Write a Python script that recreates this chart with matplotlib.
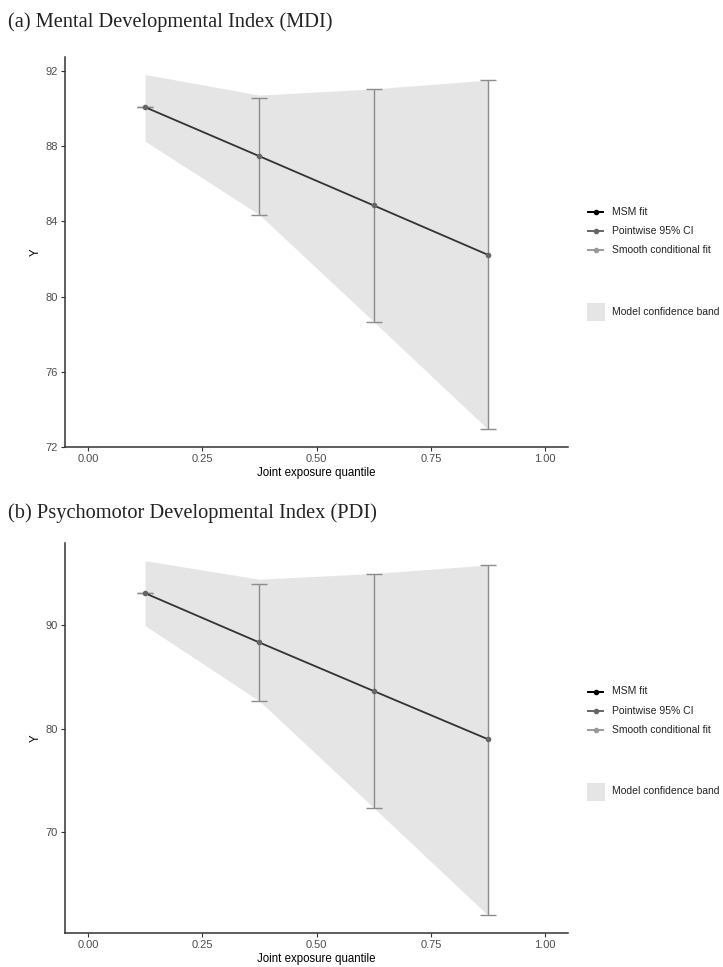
import matplotlib.pyplot as plt
from matplotlib.lines import Line2D
from matplotlib.patches import Rectangle

# data
quantiles = [0.125, 0.375, 0.625, 0.875]

mdi_fit = [90.08, 87.47, 84.85, 82.22]
mdi_ci_lo = [90.08, 84.36, 78.67, 72.94]
mdi_ci_hi = [90.08, 90.58, 91.02, 91.52]
mdi_band_lo = [88.27, 84.36, 78.67, 72.94]
mdi_band_hi = [91.82, 90.72, 91.05, 91.52]

pdi_fit = [93.05, 88.30, 83.62, 78.97]
pdi_ci_lo = [93.05, 82.66, 72.37, 62.00]
pdi_ci_hi = [93.05, 93.92, 94.90, 95.77]
pdi_band_lo = [89.93, 82.66, 72.37, 62.00]
pdi_band_hi = [96.18, 94.40, 94.95, 95.77]

x_ticks = [0.00, 0.25, 0.50, 0.75, 1.00]
mdi_yticks = [72, 76, 80, 84, 88, 92]
pdi_yticks = [70, 80, 90]

titles = ["(a) Mental Developmental Index (MDI)",
          "(b) Psychomotor Developmental Index (PDI)"]
legend_labels = ["MSM fit", "Pointwise 95% CI", "Smooth conditional fit"]
legend_colors = ["#000000", "#666666", "#999999"]
band_label = "Model confidence band"

W, H = 723, 967
fig = plt.figure(figsize=(W / 100, H / 100), dpi=100)
sans = ["Liberation Sans", "DejaVu Sans"]
serif = ["Liberation Serif", "DejaVu Serif"]


def fx(px):
    return px / W


def fy(py):
    return 1 - py / H


def panel(top, bottom, fit, lo, hi, blo, bhi, yticks, title, title_y, leg_y):
    ax = fig.add_axes([fx(65), fy(bottom), fx(568) - fx(65), fy(top) - fy(bottom)])
    ax.fill_between(quantiles, blo, bhi, color="#e5e5e5", lw=0)
    err_lo = [f - l for f, l in zip(fit, lo)]
    err_hi = [h - f for f, h in zip(fit, hi)]
    ax.errorbar(quantiles, fit, yerr=[err_lo, err_hi], fmt="none",
                ecolor="#8c8c8c", elinewidth=1.0, capsize=5.5, capthick=1.0)
    ax.plot(quantiles, fit, color="#333333", lw=1.3)
    ax.plot(quantiles, fit, "o", color="#666666", ms=3)
    ymin = min(blo + lo)
    ymax = max(bhi + hi)
    pad = (ymax - ymin) * 0.05
    ax.set_ylim(ymin - pad, ymax + pad)
    ax.set_xlim(-0.05, 1.05)
    ax.set_xticks(x_ticks)
    ax.set_xticklabels([f"{t:.2f}" for t in x_ticks])
    ax.set_yticks(yticks)
    for s in ["top", "right"]:
        ax.spines[s].set_visible(False)
    for s in ["left", "bottom"]:
        ax.spines[s].set_color("#333333")
        ax.spines[s].set_linewidth(1.1)
    ax.tick_params(length=3, width=0.8, color="#333333", labelsize=8,
                   labelcolor="#4d4d4d", pad=2)
    for lab in ax.get_xticklabels() + ax.get_yticklabels():
        lab.set_family(sans)
    ax.set_xlabel("Joint exposure quantile", fontsize=8.3, family=sans, labelpad=2)
    ax.set_ylabel("Y", fontsize=8.3, family=sans, labelpad=3)
    fig.text(fx(8), fy(title_y), title, family=serif, fontsize=14.7,
             va="center", ha="left", color="#222222")

    # legend, drawn by hand
    for i, (lab, col) in enumerate(zip(legend_labels, legend_colors)):
        y = leg_y + i * 19.3
        fig.add_artist(Line2D([fx(588), fx(603)], [fy(y), fy(y)], color=col, lw=1.4))
        fig.add_artist(Line2D([fx(595.5)], [fy(y)], marker="o", ms=3, color=col))
        fig.text(fx(612), fy(y), lab, family=sans, fontsize=7.5, va="center",
                 color="#222222")
    ry = leg_y + 91
    fig.add_artist(Rectangle((fx(587), fy(ry + 18)), fx(18), fy(ry) - fy(ry + 18),
                             color="#e5e5e5", lw=0))
    fig.text(fx(612), fy(ry + 9), band_label, family=sans, fontsize=7.5,
             va="center", color="#222222")
    return ax


panel(56.7, 447, mdi_fit, mdi_ci_lo, mdi_ci_hi, mdi_band_lo, mdi_band_hi,
      mdi_yticks, titles[0], 22, 211.7)
panel(543, 933, pdi_fit, pdi_ci_lo, pdi_ci_hi, pdi_band_lo, pdi_band_hi,
      pdi_yticks, titles[1], 513, 691.5)

fig.savefig("out.png", dpi=100, facecolor="white")
